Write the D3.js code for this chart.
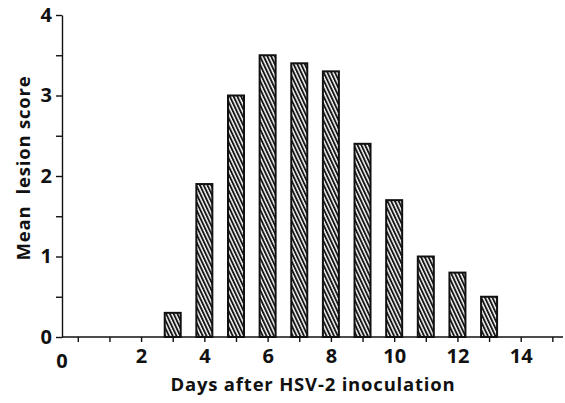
<!DOCTYPE html>
<html><head><meta charset="utf-8">
<script src="https://cdn.jsdelivr.net/npm/d3@7"></script>
<style>
html,body{margin:0;padding:0;background:#fff;}
text{font-family:"Open Sans",sans-serif;font-weight:700;fill:#111;white-space:pre;}
</style></head>
<body><svg id="c" width="565" height="403"></svg>
<script>
const days = [3, 4, 5, 6, 7, 8, 9, 10, 11, 12, 13];
const meanScores = [0.3, 1.9, 3.0, 3.5, 3.4, 3.3, 2.4, 1.7, 1.0, 0.8, 0.5];
const xTickValues = [0,1,2,3,4,5,6,7,8,9,10,11,12,13,14,15];
const xTickLabels = ["","","2","","4","","6","","8","","10","","12","","14",""];
const yTickValues = [0,0.5,1,1.5,2,2.5,3,3.5,4];
const yTickLabels = ["0","","1","","2","","3","","4"];
const xTitle = "Days after HSV-2 inoculation";
const yTitle = "Mean  lesion score";

const svg = d3.select("#c");
const x = d3.scaleLinear().domain([-0.5, 15.4]).range([62, 565]);
const y = d3.scaleLinear().domain([0, 4]).range([337, 15]);

const defs = svg.append("defs");
const pat = defs.append("pattern").attr("id","hatch").attr("patternUnits","userSpaceOnUse")
  .attr("width",3.4).attr("height",4).attr("patternTransform","rotate(-25)");
pat.append("rect").attr("width",3.4).attr("height",4).attr("fill","#fff");
pat.append("line").attr("x1",1).attr("y1",0).attr("x2",1).attr("y2",4)
  .attr("stroke","#111").attr("stroke-width",1.9);

const barW = 16;
svg.append("g").selectAll("rect").data(days).join("rect")
  .attr("x", (d)=>x(d)-barW/2)
  .attr("y", (d,i)=>y(meanScores[i]))
  .attr("width", barW)
  .attr("height", (d,i)=>y(0)-y(meanScores[i]))
  .attr("fill","url(#hatch)")
  .attr("stroke","#111").attr("stroke-width",2);

// x axis
const xAxis = d3.axisBottom(x).tickValues(xTickValues).tickSizeInner(5).tickSizeOuter(0).tickPadding(7)
  .tickFormat((d,i)=>xTickLabels[i]);
const gx = svg.append("g").attr("transform",`translate(0,${y(0)})`).call(xAxis);
gx.select(".domain").attr("stroke","#111").attr("stroke-width",1.4).attr("d",`M${x(-0.5)},0H563`);
gx.selectAll(".tick line").attr("stroke","#111").attr("stroke-width",1.4);
gx.selectAll(".tick text").attr("font-size",20).attr("font-family","Open Sans").attr("font-weight",700).attr("fill","#111");
// origin label "0"
svg.append("text").attr("x", x(-0.5)).attr("y", y(0)+31).attr("text-anchor","middle")
  .attr("font-size",20).text("0");

// y axis
const yAxis = d3.axisLeft(y).tickValues(yTickValues).tickSizeInner(6).tickSizeOuter(0).tickPadding(4)
  .tickFormat((d,i)=>yTickLabels[i]);
const gy = svg.append("g").attr("transform",`translate(${x(-0.5)},0)`).call(yAxis);
gy.select(".domain").attr("stroke","#111").attr("stroke-width",1.4);
gy.selectAll(".tick line").attr("stroke","#111").attr("stroke-width",1.4);
gy.selectAll(".tick text").attr("font-size",20).attr("font-family","Open Sans").attr("font-weight",700).attr("fill","#111");

svg.append("text").attr("x", 313).attr("y", 391).attr("text-anchor","middle")
  .attr("font-size",18.5).attr("font-weight",600).attr("letter-spacing",0.8).text(xTitle);
svg.append("text").attr("transform","translate(30,168) rotate(-90)").attr("text-anchor","middle")
  .attr("font-size",18.5).attr("font-weight",600).attr("letter-spacing",0.8).text(yTitle);
</script></body></html>
